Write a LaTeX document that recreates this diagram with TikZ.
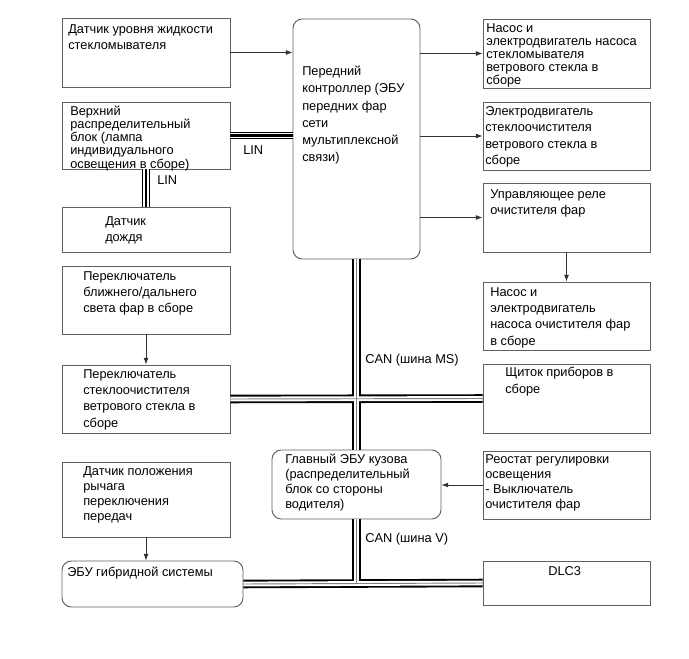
\documentclass[tikz,border=0pt]{standalone}
\usepackage{fontspec}
\setmainfont{Liberation Sans}
\usetikzlibrary{fit,arrows.meta}

\begin{document}
\begin{tikzpicture}[x=0.75pt,y=-0.75pt,
  blk/.style={draw=gray!75!black,line width=0.7pt,inner sep=0pt},
  rblk/.style={blk,rounded corners=7pt},
  txt/.style={anchor=north west,inner sep=0pt,align=left,font=\fontsize{9.6}{12.3}\selectfont},
  tight/.style={font=\fontsize{9.6}{9.8}\selectfont},
  mid/.style={font=\fontsize{9.6}{11.3}\selectfont},
  loose/.style={font=\fontsize{9.6}{12.9}\selectfont},
  arr/.style={draw=black!80,line width=0.5pt,-{Latex[length=5pt,width=3.6pt]}},
  canA/.style={line width=6.4pt,black},
  canB/.style={line width=3.6pt,white},
  canC/.style={line width=0.7pt,gray},
  linA/.style={line width=5.4pt,black},
  linB/.style={line width=3.8pt,white},
  linC/.style={line width=1.8pt,black}]
\useasboundingbox (0,0) rectangle (689,659);
% left column
\node[blk,fit={(62,18)(230,87)}] (wls) {};
\node[txt] (wlst) at (68,24) {Датчик уровня жидкости\\стекломывателя};
\node[blk,fit={(62,102)(230,169)}] (ublk) {};
\node[txt,tight] (ublkt) at (70,106) {Верхний\\распределительный\\блок (лампа\\индивидуального\\освещения в сборе)};
\node[blk,fit={(62,207)(230,252)}] (rain) {};
\node[txt] (raint) at (105,216) {Датчик\\дождя};
\node[blk,fit={(62,266)(230,334)}] (hls) {};
\node[txt] (hlst) at (83,271) {Переключатель\\ближнего/дальнего\\света фар в сборе};
\node[blk,fit={(62,365)(230,433)}] (wsw) {};
\node[txt] (wswt) at (83,369) {Переключатель\\стеклоочистителя\\ветрового стекла в\\сборе};
\node[blk,fit={(62,462)(230,537)}] (gear) {};
\node[txt,mid] (geart) at (83,466) {Датчик положения\\рычага\\переключения\\передач};
\node[rblk,fit={(62,561)(243,607)}] (hyb) {};
\node[txt] (hybt) at (67,567) {ЭБУ гибридной системы};
% middle column
\node[rblk,fit={(293,19)(420,259)}] (ctrl) {};
\node[txt,loose] (ctrlt) at (302,66) {Передний\\контроллер (ЭБУ\\передних фар\\сети\\мультиплексной\\связи)};
\node[rblk,fit={(272,450)(441,519)}] (body) {};
\node[txt,mid] (bodyt) at (285,454) {Главный ЭБУ кузова\\(распределительный\\блок со стороны\\водителя)};
% right column
\node[blk,fit={(483,19)(650,88)}] (pump) {};
\node[txt,tight] (pumpt) at (486,23) {Насос и\\электродвигатель насоса\\стекломывателя\\ветрового стекла в\\сборе};
\node[blk,fit={(483,102)(650,170)}] (wmot) {};
\node[txt] (wmott) at (485,106) {Электродвигатель\\стеклоочистителя\\ветрового стекла в\\сборе};
\node[blk,fit={(483,183)(650,252)}] (relay) {};
\node[txt] (relayt) at (490,189) {Управляющее реле\\очистителя фар};
\node[blk,fit={(483,282)(650,350)}] (hpump) {};
\node[txt] (hpumpt) at (490,287) {Насос и\\электродвигатель\\насоса очистителя фар\\в сборе};
\node[blk,fit={(483,364)(650,433)}] (inst) {};
\node[txt] (instt) at (505,367) {Щиток приборов в\\сборе};
\node[blk,fit={(483,451)(650,519)}] (rheo) {};
\node[txt,mid] (rheot) at (485,454) {Реостат регулировки\\освещения\\- Выключатель\\очистителя фар};
\node[blk,fit={(483,561)(650,605)}] (dlc) {};
\node[txt] (dlct) at (548,566) {DLC3};
% arrows
\draw[arr] (wls.east) -- (wls.east -| ctrl.west);
\draw[arr] (ctrl.east |- pump.west) -- (pump.west);
\draw[arr] (ctrl.east |- wmot.west) -- (wmot.west);
\draw[arr] (ctrl.east |- relay.west) -- (relay.west);
\draw[arr] (relay.south) -- (hpump.north);
\draw[arr] (hls.south) -- (wsw.north);
\draw[arr] (rheo.west) -- (rheo.west -| body.east);
\draw[arr] (gear.south) -- (gear.south |- hyb.north);
% buses
\coordinate (jv) at (body.south |- hyb.east);
\foreach \s in {canA,canB,canC}{
  \draw[\s] (ctrl.south) -- (body.north);
  \draw[\s] (wsw.east) -- (inst.west);
  \draw[\s] (body.south) -- (jv);
  \draw[\s] (hyb.east) -- (dlc.west);
}
\foreach \s in {linA,linB,linC}{
  \draw[\s] (ublk.east) -- (ublk.east -| ctrl.west);
  \draw[\s] (ublk.south) -- (rain.north);
}
\node[txt] (linh) at (243,145) {LIN};
\node[txt] (linv) at (157,175) {LIN};
\node[txt] (canms) at (365,354) {CAN (шина MS)};
\node[txt] (canv) at (365,533) {CAN (шина V)};
\end{tikzpicture}
\end{document}
